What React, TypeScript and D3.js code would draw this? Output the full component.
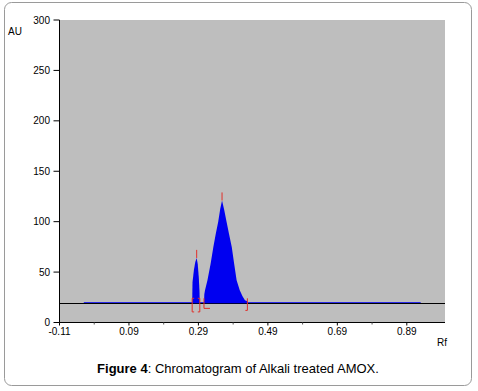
import React from 'react'
import * as d3 from 'd3'

// peak profiles (Rf, AU)
const peak1: [number, number][] = [
  [0.272, 19], [0.273, 40], [0.277, 52], [0.281, 60], [0.285, 64],
  [0.288, 58], [0.291, 45], [0.293, 32], [0.294, 19],
]
const peak2: [number, number][] = [
  [0.306, 19], [0.307, 28], [0.309, 32], [0.316, 42], [0.325, 58],
  [0.333, 75], [0.34, 88], [0.347, 100], [0.353, 113], [0.358, 121],
  [0.364, 112], [0.371, 100], [0.378, 88], [0.386, 75], [0.393, 58],
  [0.4, 42], [0.409, 32], [0.417, 26], [0.424, 22], [0.431, 21], [0.431, 19],
]
const baselineAU = 19
const signalRange = [-0.04, 0.93]
// apex marks: [rf, from, to]
const apexMarks: [number, number, number][] = [[0.285, 64, 72], [0.358, 121, 129]]
// boundary marks: [rf, top, bottom, foot length (signed), top foot]
const bounds: [number, number, number, number, boolean][] = [
  [0.272, 24, 10.5, 2, true], [0.294, 24, 10.5, -2, true],
  [0.306, 24, 14, 6, false], [0.431, 24, 12, -2, false],
]
const yTicks = [0, 50, 100, 150, 200, 250, 300]
const xTicks = [-0.11, 0.09, 0.29, 0.49, 0.69, 0.89]
const xMinor = [-0.01, 0.19, 0.39, 0.59, 0.79]

const App = () => {
  const left = 59.5, right = 445, top = 20, bottom = 322.5
  const x = d3.scaleLinear().domain([-0.11, 1.0]).range([left, right])
  const y = d3.scaleLinear().domain([0, 300]).range([bottom, top])

  const area = d3.area<[number, number]>()
    .x(d => x(d[0]))
    .y0(y(baselineAU))
    .y1(d => y(d[1]))

  const font = 'Arial, "Liberation Sans", sans-serif'
  const red = '#e0302a'
  const by = Math.round(y(baselineAU)) + 0.5

  return (
    <svg width={478} height={391} style={{ position: 'absolute', left: 0, top: 0 }} fontFamily={font}>
      <rect x={4.5} y={2.5} width={467} height={383} rx={7} fill="#fff" stroke="#9a9a9a" />
      <rect x={left} y={top} width={right - left} height={bottom - top} fill="#bebebe" />

      {/* baseline */}
      <line x1={left} x2={right} y1={by} y2={by} stroke="#000" />
      <line x1={x(signalRange[0])} x2={x(signalRange[1])} y1={by - 1} y2={by - 1} stroke="#2a2ae6" />

      {[peak1, peak2].map((p, i) => (
        <path key={i} d={area(p) || ''} fill="#0000f0" />
      ))}

      {apexMarks.map(([r, a, b], i) => (
        <line key={i} x1={x(r)} x2={x(r)} y1={y(a)} y2={y(b)} stroke={red} />
      ))}
      {bounds.map(([r, a, b, foot, topFoot], i) => (
        <path key={i}
          d={`${topFoot ? `M${x(r) + foot},${y(a)}H${x(r)}` : `M${x(r)},${y(a)}`}V${y(b)}h${foot}`}
          fill="none" stroke={red} />
      ))}

      {/* y axis */}
      <line x1={left} x2={left} y1={top} y2={bottom} stroke="#000" />
      {yTicks.map(t => (
        <g key={t} transform={`translate(0,${y(t)})`}>
          <line x1={left - 6} x2={left} stroke="#000" />
          <text x={50} dy="0.35em" textAnchor="end" fontSize={10}>{t}</text>
        </g>
      ))}
      <text x={8} y={35} fontSize={10}>AU</text>

      {/* x axis */}
      <line x1={left} x2={right} y1={bottom} y2={bottom} stroke="#000" />
      {xTicks.map(t => (
        <g key={t} transform={`translate(${x(t)},${bottom})`}>
          <line y1={0} y2={3} stroke="#000" />
          <text y={12} textAnchor="middle" fontSize={10}>{t.toFixed(2)}</text>
        </g>
      ))}
      {xMinor.map(t => (
        <line key={t} x1={x(t)} x2={x(t)} y1={bottom} y2={bottom + 2} stroke="#555" />
      ))}
      <text x={437} y={346} fontSize={10}>Rf</text>

      <text x={238} y={373} textAnchor="middle" fontSize={13}>
        <tspan fontWeight="bold">Figure 4</tspan>: Chromatogram of Alkali treated AMOX.
      </text>
    </svg>
  )
}

export default App
